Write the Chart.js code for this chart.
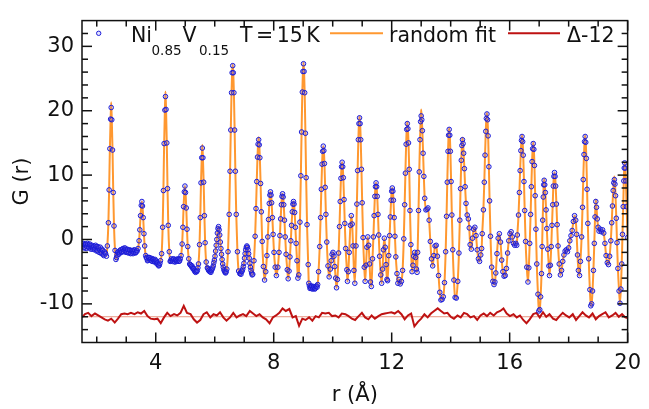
<!DOCTYPE html>
<html>
<head>
<meta charset="utf-8">
<title>Ni0.85V0.15 G(r)</title>
<script src="https://cdn.jsdelivr.net/npm/chart.js@4.4.1/dist/chart.umd.min.js"></script>
<style>
  html, body { margin: 0; padding: 0; background: #fff; }
  #wrap { width: 649px; height: 409px; }
</style>
</head>
<body>
<div id="wrap"><canvas id="pdf" width="649" height="409"></canvas></div>
<script>
// observed G(r), one line per feature of the pattern
var rObs = [
  1.50,1.52,1.54,1.56,1.58,1.60,1.62,1.64,1.66,1.68,1.70,1.72,1.74,1.76,1.78,1.80,1.82,1.84,1.86,1.88,1.90,
  1.92,1.94,1.96,1.98,2.00,2.02,2.04,2.06,2.08,2.10,2.12,2.14,2.16,2.18,2.20,2.22,2.24,2.26,2.28,2.30,2.33,
  2.36,2.395,2.42,2.445,2.47,2.49,2.51,2.535,2.56,2.585,2.62,2.65,
  2.67,2.69,2.71,2.73,2.75,2.77,2.79,2.81,2.83,2.85,2.87,2.89,2.91,2.93,2.95,2.97,2.99,3.01,
  3.03,3.05,3.07,3.09,3.11,3.13,3.15,3.17,3.19,3.21,3.23,3.25,3.27,3.29,3.31,3.33,3.35,3.37,
  3.40,3.435,3.46,3.485,3.51,3.53,3.55,3.575,3.60,3.625,3.66,
  3.68,3.70,3.72,3.74,3.76,3.78,3.80,3.82,3.84,3.86,3.88,3.90,3.92,3.94,3.96,3.98,4.00,4.02,4.04,4.06,4.08,4.10,4.12,4.14,4.16,
  4.20,4.235,4.26,4.285,4.31,4.33,4.35,4.375,4.40,4.425,4.46,4.49,
  4.51,4.53,4.55,4.57,4.59,4.61,4.63,4.65,4.67,4.69,4.71,4.73,4.75,4.77,4.79,4.81,4.83,
  4.86,4.895,4.92,4.945,4.97,4.99,5.01,5.035,5.06,5.085,5.12,5.15,
  5.17,5.19,5.21,5.23,5.25,5.27,5.29,5.31,5.33,5.35,5.37,5.39,5.41,5.43,
  5.45,5.485,5.51,5.535,5.56,5.58,5.60,5.625,5.65,5.675,5.71,5.75,
  5.77,5.79,5.81,5.83,5.85,5.87,5.89,5.91,5.93,5.95,5.97,5.99,6.01,6.03,6.05,6.07,6.09,
  6.11,6.13,6.15,6.17,6.19,6.21,6.23,6.25,6.27,6.29,6.31,6.33,6.35,6.37,6.39,6.41,
  6.45,6.49,6.52,6.545,6.57,6.59,6.61,6.63,6.65,6.675,6.70,6.73,6.77,6.81,6.85,
  6.87,6.89,6.91,6.93,6.95,6.97,6.99,7.01,7.03,7.05,7.07,7.09,7.11,7.13,7.15,7.17,7.19,7.21,7.23,7.25,7.27,7.29,
  7.33,7.37,7.40,7.425,7.45,7.47,7.49,7.51,7.53,7.555,7.58,7.61,7.65,7.69,
  7.73,7.77,7.80,7.825,7.85,7.87,7.89,7.91,7.93,7.955,7.98,8.01,8.05,8.09,
  8.14,8.18,8.21,8.235,8.26,8.28,8.30,8.32,8.34,8.365,8.39,8.42,8.46,8.49,
  8.52,8.55,8.58,8.605,8.63,8.65,8.67,8.69,8.71,8.735,8.76,8.79,8.82,
  8.85,8.89,8.92,8.945,8.97,8.99,9.01,9.03,9.05,9.075,9.10,9.13,9.17,
  9.19,9.21,9.23,9.25,9.27,9.29,9.31,9.33,9.35,9.37,9.39,9.41,9.43,9.45,9.47,9.49,
  9.52,9.56,9.59,9.615,9.64,9.66,9.68,9.70,9.72,9.745,9.77,9.80,9.84,
  9.88,9.92,9.95,9.98,10.01,10.04,10.07,10.10,10.13,
  10.16,10.20,10.23,10.255,10.28,10.30,10.32,10.34,10.36,10.385,10.41,10.44,10.48,
  10.50,10.53,10.56,10.60,10.63,10.66,10.69,10.72,
  10.75,10.79,10.82,10.845,10.87,10.89,10.91,10.93,10.95,10.975,11.00,11.03,11.07,
  11.10,11.13,11.16,11.19,11.22,11.25,11.28,
  11.31,11.35,11.38,11.405,11.43,11.45,11.47,11.49,11.51,11.535,11.56,11.59,11.63,
  11.66,11.69,11.72,11.75,11.78,11.81,11.84,
  11.86,11.90,11.93,11.955,11.98,12.00,12.02,12.04,12.06,12.085,12.11,12.14,12.18,
  12.21,12.25,12.29,12.33,
  12.37,12.41,12.44,12.465,12.49,12.51,12.53,12.55,12.57,12.595,12.62,12.65,12.69,
  12.72,12.75,12.78,12.81,12.84,12.86,
  12.88,12.91,12.935,12.96,12.98,13.00,13.02,13.04,13.065,13.09,13.12,13.16,13.20,13.23,13.27,13.31,13.35,13.39,
  13.43,13.47,13.51,13.55,13.59,13.63,13.67,13.71,13.75,
  13.79,13.83,13.86,13.885,13.91,13.93,13.95,13.97,13.99,14.015,14.04,14.07,14.11,
  14.15,14.19,
  14.24,14.28,14.31,14.335,14.36,14.38,14.40,14.42,14.44,14.465,14.49,14.52,14.56,
  14.60,14.63,14.66,14.70,14.74,14.78,14.82,14.86,14.90,14.94,14.98,15.02,15.05,
  15.07,15.11,15.14,15.165,15.19,15.21,15.23,15.25,15.27,15.295,15.32,15.35,15.39,15.43,15.47,15.50,
  15.53,15.57,15.61,15.65,15.69,15.73,15.77,15.81,15.85,15.89,15.93,15.97,16.01,16.05,16.09,16.13,16.17,16.21,16.24,
  16.26,16.30,16.33,16.355,16.38,16.40,16.42,16.44,16.46,16.485,16.51,16.54,16.58,16.62,
  16.65,16.68,16.71,16.735,16.76,16.78,16.80,16.82,16.84,16.865,16.89,16.92,16.96,16.99,17.02,
  17.05,17.08,17.10,17.12,17.14,17.155,17.17,17.19,17.21,17.235,17.26,17.29,17.33,17.35,
  17.38,17.41,17.435,17.46,17.48,17.50,17.52,17.54,17.56,17.585,17.61,17.64,17.68,17.72,
  17.76,17.80,17.84,17.88,17.92,17.96,18.00,18.04,18.08,18.12,18.16,18.20,18.24,18.27,18.30,18.33,18.37,
  18.40,18.44,18.47,18.495,18.52,18.54,18.56,18.58,18.60,18.625,18.65,18.68,18.72,18.75,18.78,
  18.81,18.84,18.87,18.895,18.92,18.945,18.97,19.00,19.03,19.07,19.11,19.15,19.19,19.23,19.27,19.31,19.35,
  19.39,19.43,19.46,19.485,19.51,19.53,19.55,19.57,19.59,19.615,19.64,19.67,19.71,19.74,
  19.77,19.80,19.825,19.85,19.87,19.885,19.90,19.92,19.94,19.965,20.00
];
var gObs = [
  -1.0,-0.7,-0.6,-1.3,-1.2,-0.8,-0.7,-1.4,-1.1,-0.6,-0.8,-1.2,-1.3,-0.7,-0.9,-1.5,-1.2,-0.9,-1.5,-1.2,-1.0,
  -1.6,-1.4,-0.9,-1.1,-1.8,-1.7,-1.1,-1.3,-2.0,-1.6,-1.2,-2.0,-2.2,-1.5,-1.7,-2.3,-2.5,-1.9,-2.1,-2.2,-2.6,
  -1.0,2.6,7.7,14.1,18.7,20.5,18.6,13.9,7.3,2.1,-1.7,-3.1,
  -2.8,-2.4,-2.0,-1.9,-2.3,-2.1,-1.7,-1.6,-2.0,-1.9,-1.5,-1.4,-1.9,-1.7,-1.3,-1.5,-2.0,-1.9,
  -1.5,-1.6,-2.1,-2.0,-1.6,-1.7,-2.2,-2.1,-1.7,-1.8,-2.2,-2.0,-1.6,-1.7,-2.1,-2.0,-1.7,-1.8,
  -1.4,-0.2,1.5,3.7,5.3,5.9,5.2,3.4,0.9,-1.0,-2.5,
  -2.8,-2.9,-3.3,-3.2,-2.8,-2.8,-3.2,-3.1,-2.9,-3.3,-3.4,-3.0,-3.1,-3.4,-3.5,-3.1,-3.3,-3.5,-3.8,-3.6,-3.9,-4.1,-4.0,-3.7,-3.3,
  -2.2,1.9,7.6,14.9,20.1,22.2,20.2,15.0,7.9,2.2,-1.9,-3.4,
  -3.3,-3.0,-3.2,-3.4,-3.1,-3.0,-3.4,-3.5,-3.2,-3.1,-3.4,-3.3,-3.0,-3.1,-3.4,-3.3,-3.0,
  -2.5,-0.7,1.9,5.1,7.4,8.3,7.3,4.9,1.6,-1.1,-3.0,-3.8,
  -3.9,-4.0,-4.2,-4.1,-4.4,-4.6,-4.5,-4.8,-5.0,-5.1,-4.9,-5.0,-4.8,-4.4,
  -3.8,-0.8,3.4,8.8,12.7,14.2,12.7,8.9,3.7,-0.5,-3.5,-4.4,
  -4.5,-4.8,-4.7,-5.0,-4.9,-5.1,-4.8,-4.6,-4.4,-4.1,-3.6,-3.2,-2.6,-1.8,-0.9,0.0,1.0,
  1.7,2.0,1.5,0.7,-0.4,-1.4,-2.3,-3.1,-3.8,-4.3,-4.7,-4.9,-5.1,-5.2,-5.0,-4.6,
  -1.9,3.9,10.6,17.0,22.8,25.9,27.0,25.9,22.8,17.0,10.6,3.9,-1.9,-4.9,-5.3,
  -5.2,-5.4,-5.0,-4.9,-4.6,-4.2,-3.7,-2.9,-2.2,-1.6,-1.2,-1.0,-1.2,-1.6,-2.2,-2.9,-3.7,-4.3,-4.8,-5.2,-5.5,-5.4,
  -3.3,0.5,4.8,9.0,12.8,14.8,15.5,14.7,12.7,8.7,4.3,-0.3,-4.2,-6.3,
  -5.0,-2.5,0.4,3.1,5.6,6.9,7.4,6.9,5.7,3.4,0.8,-2.0,-4.3,-5.6,
  -4.3,-2.0,0.6,3.2,5.4,6.7,7.1,6.6,5.4,3.0,0.4,-2.3,-4.7,-6.1,
  -4.9,-2.7,-0.2,2.2,4.3,5.5,5.9,5.5,4.2,1.9,-0.6,-3.3,-6.0,
  -5.5,2.7,9.9,16.7,22.9,26.1,27.3,26.1,22.8,16.5,9.6,2.3,-3.9,
  -6.8,-7.2,-7.6,-7.5,-7.2,-7.3,-7.7,-7.6,-7.3,-7.4,-7.7,-7.6,-7.3,-7.2,-7.4,-7.0,
  -5.0,-1.1,3.4,7.8,11.7,13.7,14.5,13.8,11.8,8.1,3.9,-0.4,-4.1,
  -5.8,-4.6,-3.3,-2.3,-2.0,-2.6,-4.2,-6.0,-7.5,
  -6.2,-2.1,2.0,5.9,9.5,11.3,12.0,11.3,9.6,6.2,2.5,-1.4,-4.7,
  -6.5,-5.0,-2.0,2.2,3.7,2.4,-1.0,-4.8,
  -6.8,-1.0,5.5,10.7,15.5,18.0,18.9,18.0,15.5,10.9,5.7,0.3,-4.3,
  -6.5,-4.0,-1.2,0.4,-0.9,-3.8,-6.6,
  -7.3,-3.0,0.4,3.7,6.7,8.2,8.8,8.2,6.7,3.9,0.7,-2.6,-5.5,
  -6.8,-4.6,-1.6,0.2,-1.2,-3.9,-6.2,
  -6.4,-2.5,0.6,3.5,6.1,7.5,8.0,7.5,6.1,3.4,0.5,-2.7,-5.3,
  -6.8,-6.2,-6.9,-6.5,
  -4.8,0.1,5.4,10.3,14.8,17.1,18.0,17.2,15.0,10.9,4.5,-0.8,-5.0,
  -4.0,-2.6,-2.0,-2.8,-4.6,-5.1,
  -2.0,4.5,10.5,15.5,18.3,19.2,18.6,16.9,13.4,9.8,6.4,4.6,4.7,4.9,3.0,-0.3,-3.0,-4.1,
  -2.5,-1.0,-0.9,-2.6,-5.6,-8.2,-9.4,-9.3,-8.9,
  -6.7,-1.9,3.6,8.9,13.7,16.2,17.1,16.2,13.7,9.0,3.8,-1.6,-6.3,
  -9.0,-9.1,
  -6.5,-2.1,3.0,7.9,12.3,14.6,15.5,14.9,13.4,11.0,8.2,5.6,3.8,
  3.2,1.8,-0.8,-1.5,0.2,1.6,1.9,0.6,-1.6,-3.0,-3.4,-2.4,-1.4,
  0.9,4.6,8.9,13.1,16.8,18.8,19.5,18.6,16.1,11.3,6.0,0.5,-4.3,-6.5,-7.0,-6.6,
  -5.2,-2.2,0.2,0.9,-0.4,-3.2,-5.0,-5.7,-5.6,-4.5,-2.1,-0.2,0.9,1.2,0.4,-0.6,-0.9,-0.6,-0.9,
  0.7,3.8,7.3,10.7,13.8,15.4,16.0,15.2,13.1,9.0,4.5,-0.3,-4.3,-6.6,
  -4.4,-0.6,3.9,8.2,12.1,14.1,14.9,14.0,11.5,6.8,1.6,-3.8,-8.5,-11.1,-10.9,
  -8.9,-5.3,-1.1,3.0,6.6,8.5,9.2,8.5,7.3,4.6,1.7,-1.5,-4.1,-5.6,
  -4.0,-1.1,2.2,5.4,8.3,9.8,10.4,9.8,8.3,5.5,2.3,-1.0,-3.8,-5.5,
  -4.8,-3.4,-2.4,-1.8,-1.6,-1.9,-1.3,-0.2,0.6,1.4,2.8,3.7,3.0,0.8,-2.4,-4.8,-5.6,
  -3.4,0.4,5.0,9.3,13.2,15.2,16.0,15.1,12.6,7.8,2.5,-3.0,-7.8,-10.3,-10.0,
  -8.0,-4.8,-0.6,3.5,5.9,5.0,3.2,1.9,1.3,1.6,1.2,1.5,1.0,-0.6,-2.5,-3.6,-3.9,
  -2.6,-0.2,2.6,5.2,7.6,8.8,9.3,8.6,6.8,3.3,-0.5,-4.5,-8.0,-9.9,
  -7.7,-3.8,0.8,5.1,9.1,11.1,11.9,11.1,9.1,5.1,0.3
];
// where the fit line tops differ from the data: [r, G]
var fitTops = [
  [2.49, 21.3], [4.33, 23.0], [5.58, 14.7], [6.61, 27.2], [7.49, 15.9], [9.01, 27.5],
  [10.91, 19.1], [12.53, 18.3], [13.00, 20.2], [13.95, 17.3], [14.40, 15.8], [15.23, 19.7],
  [16.42, 16.2], [16.80, 15.1], [17.17, 9.4], [18.56, 16.2], [18.92, 6.2], [19.55, 9.8]
];
// difference curve, already shifted by -12
var rDiff = [
  1.50,1.60,1.71,1.82,1.94,2.05,2.16,2.27,2.38,2.49,2.61,2.72,2.83,2.94,3.05,3.16,3.28,3.39,3.50,3.61,
  3.72,3.83,3.95,4.06,4.17,4.28,4.39,4.50,4.62,4.73,4.84,4.95,5.06,5.18,5.29,5.40,5.51,5.62,5.73,5.85,
  5.96,6.07,6.18,6.29,6.40,6.52,6.63,6.74,6.85,6.96,7.07,7.19,7.30,7.41,7.52,7.63,7.74,7.86,7.97,8.08,
  8.19,8.30,8.41,8.53,8.64,8.75,8.86,8.97,9.08,9.20,9.31,9.42,9.53,9.64,9.75,9.87,9.98,10.09,10.20,10.31,
  10.43,10.54,
  10.65,10.76,10.88,10.99,11.10,11.21,11.32,11.43,11.55,11.66,11.77,11.88,11.99,12.10,12.22,12.33,12.44,12.55,12.66,12.77,
  12.89,13.00,13.11,13.22,13.33,13.44,13.56,13.67,13.78,13.89,14.00,14.11,14.23,14.34,14.45,14.56,14.67,14.79,14.90,15.01,
  15.12,15.23,15.34,15.46,15.57,15.68,15.79,15.90,16.01,16.13,16.24,16.35,16.46,16.57,16.68,16.80,16.91,17.02,17.13,17.24,
  17.35,17.47,17.58,17.69,17.80,17.91,18.02,18.14,18.25,18.36,18.47,18.58,18.69,18.81,18.92,19.03,19.14,19.25,19.36,19.48,
  19.59,19.70,19.81,19.92,20.00
];
var gDiff = [
  -12.1,-11.6,-11.4,-11.9,-11.5,-11.8,-12.1,-12.4,-12.6,-12.3,-12.9,-12.3,-11.6,-11.5,-11.6,-11.4,-11.6,-11.3,-11.5,-11.1,
  -11.9,-12.3,-12.4,-12.3,-13.0,-12.1,-11.4,-11.9,-11.6,-11.8,-11.4,-10.3,-11.4,-11.6,-12.4,-12.9,-12.5,-11.6,-11.3,-12.1,
  -11.6,-11.8,-11.3,-12.1,-12.6,-12.1,-11.4,-12.1,-11.8,-11.6,-11.9,-11.1,-11.5,-11.9,-11.6,-12.1,-12.4,-13.0,-12.1,-11.8,
  -11.4,-10.7,-11.1,-10.8,-12.1,-11.9,-13.4,-12.3,-12.5,-12.1,-12.6,-11.9,-12.1,-11.4,-11.5,-11.4,-11.9,-11.8,-12.1,-11.5,
  -11.6,-11.9,
  -12.3,-12.5,-11.9,-11.4,-12.1,-12.4,-11.8,-12.3,-11.9,-11.6,-11.5,-11.4,-11.3,-11.5,-11.1,-11.6,-12.4,-11.8,-11.5,-13.5,
  -12.8,-12.3,-11.6,-12.1,-11.5,-11.1,-10.7,-11.1,-11.5,-11.4,-12.0,-12.3,-11.8,-12.1,-11.4,-11.6,-12.1,-11.9,-12.5,-11.8,
  -11.5,-11.9,-11.4,-11.8,-11.3,-11.1,-10.7,-11.5,-11.9,-11.6,-12.1,-11.8,-12.5,-13.0,-12.4,-11.6,-11.4,-12.1,-11.3,-12.0,
  -11.6,-12.3,-12.5,-11.9,-11.4,-11.8,-12.1,-11.6,-12.5,-11.9,-11.3,-11.8,-12.1,-11.5,-12.4,-11.9,-11.6,-11.3,-12.1,-11.8,
  -11.4,-12.0,-11.6,-12.1,-12.2
];
var diffOffset = -12;

var xTicks = [4, 8, 12, 16, 20];
var xMinor = [2, 3, 5, 6, 7, 9, 10, 11, 13, 14, 15, 17, 18, 19];
var yTicks = [-10, 0, 10, 20, 30];
var yMinor = [-14, -12, -8, -6, -4, -2, 2, 4, 6, 8, 12, 14, 16, 18, 22, 24, 26, 28, 32];

if (rObs.length != gObs.length || rDiff.length != gDiff.length) {
  console.error('length mismatch', rObs.length, gObs.length, rDiff.length, gDiff.length);
}

var FONT = '"DejaVu Sans", Verdana, sans-serif';
var INK = '#111';
var BLUE = 'rgb(28,28,215)';
var ORANGE = 'rgb(255,152,48)';
var DARKRED = 'rgb(190,18,18)';

var topAt = {};
fitTops.forEach(function (p) { topAt[p[0].toFixed(3)] = p[1]; });

var obsPoints = rObs.map(function (r, i) { return { x: r, y: gObs[i] }; });
var fitPoints = rObs.map(function (r, i) {
  var k = r.toFixed(3);
  return { x: r, y: (k in topAt) ? topAt[k] : gObs[i] };
});
var diffPoints = rDiff.map(function (r, i) { return { x: r, y: gDiff[i] }; });

function seg(ctx, x1, y1, x2, y2) {
  ctx.beginPath(); ctx.moveTo(x1, y1); ctx.lineTo(x2, y2); ctx.stroke();
}

var framePlugin = {
  id: 'frame',
  beforeDatasetsDraw: function (c) {
    var ctx = c.ctx, a = c.chartArea;
    var y = c.scales.y.getPixelForValue(diffOffset);
    ctx.save();
    ctx.strokeStyle = 'rgb(232,150,130)';
    ctx.lineWidth = 1;
    seg(ctx, a.left, y, a.right, y);
    ctx.restore();
  },
  afterDraw: function (c) {
    var ctx = c.ctx, a = c.chartArea, sx = c.scales.x, sy = c.scales.y;
    ctx.save();
    ctx.strokeStyle = INK;
    ctx.lineWidth = 1.5;
    ctx.strokeRect(a.left, a.top, a.right - a.left, a.bottom - a.top);

    // inward ticks on all four sides
    xMinor.forEach(function (v) {
      var px = sx.getPixelForValue(v);
      seg(ctx, px, a.bottom, px, a.bottom - 6);
      seg(ctx, px, a.top, px, a.top + 6);
    });
    xTicks.forEach(function (v) {
      var px = sx.getPixelForValue(v);
      seg(ctx, px, a.bottom, px, a.bottom - 10);
      seg(ctx, px, a.top, px, a.top + 10);
    });
    yMinor.forEach(function (v) {
      var py = sy.getPixelForValue(v);
      seg(ctx, a.left, py, a.left + 6, py);
      seg(ctx, a.right, py, a.right - 6, py);
    });
    yTicks.forEach(function (v) {
      var py = sy.getPixelForValue(v);
      seg(ctx, a.left, py, a.left + 10, py);
      seg(ctx, a.right, py, a.right - 10, py);
    });

    // axis titles
    ctx.fillStyle = INK;
    ctx.font = '21px ' + FONT;
    ctx.textAlign = 'center';
    ctx.textBaseline = 'middle';
    ctx.fillText('r (Å)', (a.left + a.right) / 2, 396);
    ctx.save();
    ctx.translate(23, (a.top + a.bottom) / 2);
    ctx.rotate(-Math.PI / 2);
    ctx.fillText('G (r)', 0, 0);
    ctx.restore();

    // legend
    ctx.textAlign = 'left';
    ctx.textBaseline = 'alphabetic';
    ctx.strokeStyle = BLUE;
    ctx.lineWidth = 1;
    ctx.fillStyle = 'rgba(110,110,255,0.2)';
    ctx.beginPath(); ctx.arc(98.7, 33.3, 2.2, 0, Math.PI * 2); ctx.fill(); ctx.stroke();

    ctx.fillStyle = INK;
    ctx.font = '20.5px ' + FONT;
    ctx.fillText('Ni', 131, 42);
    ctx.fillText('V', 182.5, 42);
    if ('wordSpacing' in ctx) ctx.wordSpacing = '-3px';
    ctx.fillText('T = 15 K', 240, 42);
    if ('wordSpacing' in ctx) ctx.wordSpacing = '0px';
    ctx.fillText('random fit', 389, 42);
    ctx.fillText('Δ-12', 567, 42);
    ctx.font = '13.5px ' + FONT;
    ctx.fillText('0.85', 151.5, 55);
    ctx.fillText('0.15', 199, 55);

    ctx.lineWidth = 2;
    ctx.strokeStyle = ORANGE;
    seg(ctx, 330, 33.3, 383, 33.3);
    ctx.strokeStyle = DARKRED;
    seg(ctx, 508, 33.3, 560, 33.3);
    ctx.restore();
  }
};

var chart = new Chart(document.getElementById('pdf').getContext('2d'), {
  type: 'scatter',
  data: {
    datasets: [
      {
        label: 'Ni0.85V0.15 T = 15 K',
        data: obsPoints,
        showLine: false,
        pointRadius: 2.3,
        pointBorderWidth: 1,
        pointBorderColor: BLUE,
        pointBackgroundColor: 'rgba(110,110,255,0.2)',
        order: 0
      },
      {
        label: 'random fit',
        data: fitPoints,
        showLine: true,
        borderColor: ORANGE,
        borderWidth: 2,
        pointRadius: 0,
        cubicInterpolationMode: 'monotone',
        order: 1
      },
      {
        label: 'Δ-12',
        data: diffPoints,
        showLine: true,
        borderColor: DARKRED,
        borderWidth: 2,
        pointRadius: 0,
        tension: 0,
        order: 2
      }
    ]
  },
  options: {
    responsive: false,
    animation: false,
    devicePixelRatio: 1,
    layout: { padding: { left: 0, right: 15, top: 10, bottom: 0 } },
    plugins: { legend: { display: false }, tooltip: { enabled: false } },
    scales: {
      x: {
        type: 'linear',
        min: 1.5,
        max: 20,
        grid: { display: false, drawTicks: false },
        border: { display: false },
        ticks: { font: { family: FONT, size: 21 }, color: INK, padding: 8, maxRotation: 0, autoSkip: false },
        afterBuildTicks: function (s) { s.ticks = xTicks.map(function (v) { return { value: v }; }); },
        afterFit: function (s) { s.height = 66.5; }
      },
      y: {
        type: 'linear',
        min: -16,
        max: 34,
        grid: { display: false, drawTicks: false },
        border: { display: false },
        ticks: { font: { family: FONT, size: 21 }, color: INK, padding: 8 },
        afterBuildTicks: function (s) { s.ticks = yTicks.map(function (v) { return { value: v }; }); },
        afterFit: function (s) { s.width = 82; }
      }
    }
  },
  plugins: [framePlugin]
});
</script>
</body>
</html>
